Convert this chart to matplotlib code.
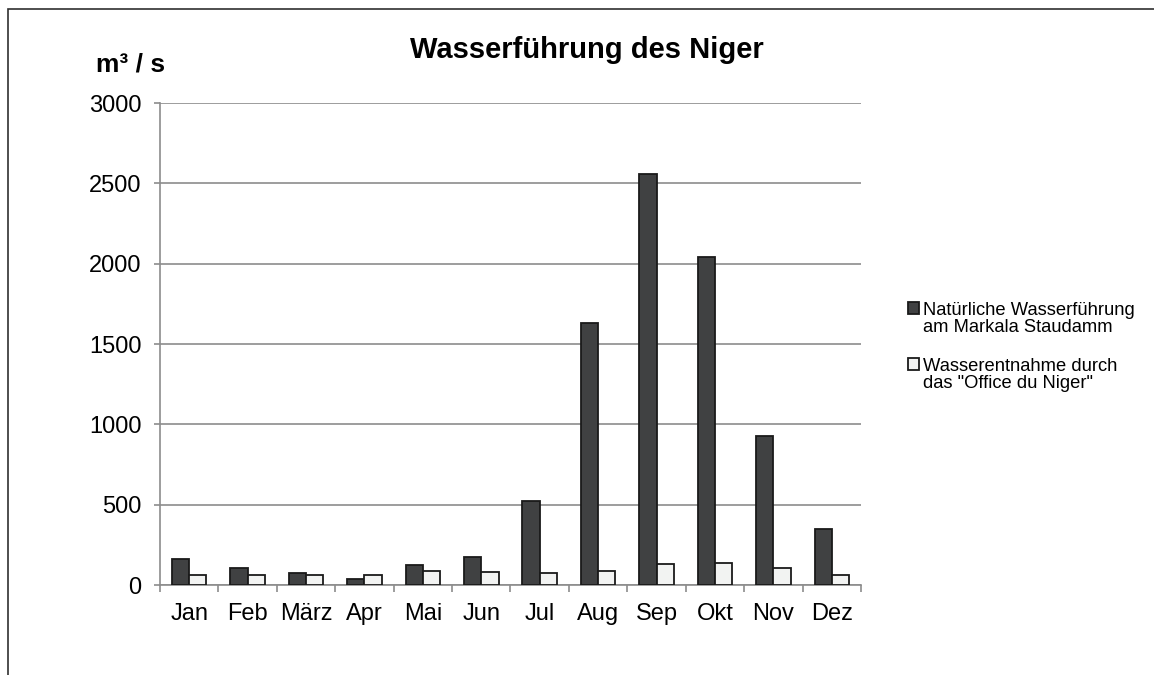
import numpy as np
import matplotlib.pyplot as plt
from matplotlib.patches import Rectangle
from matplotlib.container import BarContainer
from matplotlib.legend_handler import HandlerPatch

plt.rcParams['font.family'] = ['Liberation Sans', 'DejaVu Sans']

months = ['Jan', 'Feb', 'März', 'Apr', 'Mai', 'Jun',
          'Jul', 'Aug', 'Sep', 'Okt', 'Nov', 'Dez']
natural = [162, 106, 75, 40, 127, 172, 523, 1630, 2560, 2040, 930, 350]
entnahme = [60, 60, 62, 62, 87, 83, 77, 89, 129, 137, 104, 64]
labels = ['Natürliche Wasserführung\nam Markala Staudamm',
          'Wasserentnahme durch\ndas "Office du Niger"']

W, H = 1154, 675
fig = plt.figure(figsize=(W/100, H/100), dpi=100)
ax = fig.add_axes([160/W, 1-585/H, (861-160)/W, (585-103)/H])

# outer frame, cut off at right and bottom like the source image
fig.patches.append(Rectangle((8/W, -0.1), 1.2, 1 - 9/H + 0.1,
                             transform=fig.transFigure, fill=False,
                             edgecolor='#303030', linewidth=1.2))

x = np.arange(len(months))
w = 0.295
ax.bar(x - w/2, natural, w, color='#404142', edgecolor='#1a1a1a',
       linewidth=1.3, label=labels[0], zorder=3)
ax.bar(x + w/2, entnahme, w, color='#f2f3f2', edgecolor='#1a1a1a',
       linewidth=1.3, label=labels[1], zorder=3)

ax.set_xlim(-0.5, len(months) - 0.5)
ax.set_ylim(0, 3000)
ax.set_yticks(np.arange(0, 3001, 500))
ax.yaxis.grid(True, color='#8c8c8c', linewidth=1.2)
ax.set_axisbelow(True)

ax.set_xticks(x)
ax.set_xticklabels(months, fontsize=17)
ax.set_xticks(np.arange(-0.5, len(months)), minor=True)
ax.tick_params(axis='x', which='major', length=0, pad=13)
ax.tick_params(axis='x', which='minor', length=4.7, width=1.2,
               color='#8c8c8c')
ax.tick_params(axis='y', length=4.4, width=1.2, color='#8c8c8c',
               labelsize=17, pad=9)

for s in ['top', 'right']:
    ax.spines[s].set_visible(False)
for s in ['left', 'bottom']:
    ax.spines[s].set_color('#8c8c8c')
    ax.spines[s].set_linewidth(1.2)

fig.text(587/W, 1-50/H, 'Wasserführung des Niger', fontsize=21,
         fontweight='bold', ha='center', va='center')
fig.text(131/W, 1-64/H, 'm³ / s', fontsize=19, fontweight='bold',
         ha='center', va='center')


# legend square sits next to the first text line, like Excel does
def top_square(legend, orig_handle, xdescent, ydescent, width, height,
               fontsize):
    return Rectangle((-xdescent, -ydescent + 0.6 * fontsize), width, height)


def from_first_bar(legend_handle, orig_handle):
    legend_handle.update_from(orig_handle.patches[0])


leg = fig.legend(loc='center left', bbox_to_anchor=(899/W, 1-347/H),
                 frameon=False, fontsize=13.2, handlelength=0.6,
                 handleheight=0.6, handletextpad=0.2, labelspacing=1.15,
                 borderpad=0,
                 handler_map={BarContainer: HandlerPatch(
                     patch_func=top_square, update_func=from_first_bar)})
for t in leg.get_texts():
    t.set_linespacing(1.05)

fig.savefig('out.png', dpi=100)
